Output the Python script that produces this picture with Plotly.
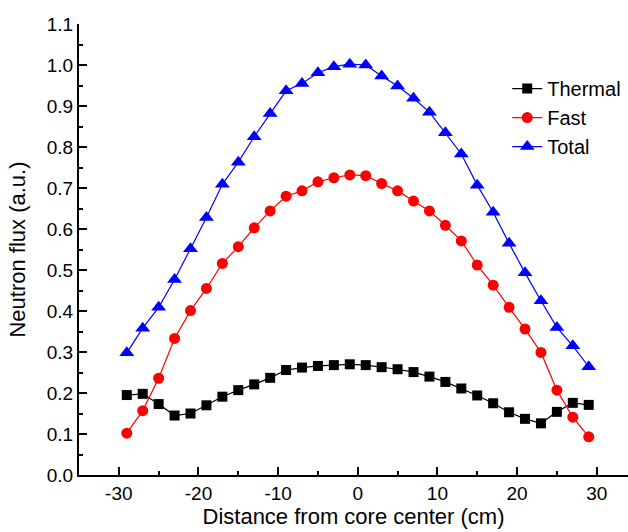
import plotly.graph_objects as go

distance = [-29, -27, -25, -23, -21, -19, -17, -15, -13, -11, -9, -7, -5, -3, -1,
            1, 3, 5, 7, 9, 11, 13, 15, 17, 19, 21, 23, 25, 27, 29]
thermal = [0.195, 0.198, 0.173, 0.145, 0.150, 0.170, 0.191, 0.207, 0.221, 0.237,
           0.256, 0.262, 0.266, 0.268, 0.270, 0.268, 0.263, 0.258, 0.251, 0.240,
           0.227, 0.211, 0.194, 0.175, 0.153, 0.137, 0.126, 0.154, 0.176, 0.171]
fast = [0.102, 0.157, 0.236, 0.333, 0.401, 0.455, 0.516, 0.557, 0.603, 0.644,
        0.680, 0.693, 0.715, 0.725, 0.732, 0.730, 0.711, 0.693, 0.668, 0.644,
        0.609, 0.571, 0.512, 0.463, 0.409, 0.356, 0.299, 0.207, 0.141, 0.093]
total = [0.298, 0.358, 0.409, 0.477, 0.552, 0.628, 0.709, 0.763, 0.825, 0.882,
         0.937, 0.955, 0.981, 0.996, 1.002, 1.000, 0.973, 0.949, 0.919, 0.885,
         0.835, 0.783, 0.707, 0.641, 0.565, 0.493, 0.425, 0.360, 0.315, 0.264]
y_ticks = [0.0, 0.1, 0.2, 0.3, 0.4, 0.5, 0.6, 0.7, 0.8, 0.9, 1.0, 1.1]
x_ticks = [-30, -20, -10, 0, 10, 20, 30]

FONT = "Liberation Sans, Arial, sans-serif"

fig = go.Figure()
fig.add_trace(go.Scatter(x=distance, y=thermal, name="Thermal", mode="lines+markers",
                         line=dict(color="#000000", width=1.2),
                         marker=dict(symbol="square", size=10, color="#000000")))
fig.add_trace(go.Scatter(x=distance, y=fast, name="Fast", mode="lines+markers",
                         line=dict(color="#FF0000", width=1.2),
                         marker=dict(symbol="circle", size=11, color="#FF0000")))
fig.add_trace(go.Scatter(x=distance, y=total, name="Total", mode="lines+markers",
                         line=dict(color="#0000FF", width=1.2),
                         marker=dict(symbol="triangle-up", size=13, color="#0000FF")))

fig.update_layout(
    width=628, height=532,
    margin=dict(l=79, r=0, t=24, b=57, autoexpand=False),
    paper_bgcolor="white", plot_bgcolor="white",
    font=dict(family=FONT, color="#000000", size=19),
    showlegend=True,
    legend=dict(x=0.78, y=0.90, xanchor="left", yanchor="top",
                font=dict(size=20, family=FONT), bgcolor="rgba(0,0,0,0)",
                tracegroupgap=0),
    xaxis=dict(
        range=[-35, 33.93], tickmode="array", tickvals=x_ticks,
        ticktext=[str(v) for v in x_ticks],
        showgrid=False, zeroline=False, showline=True, linecolor="#000000", linewidth=2,
        ticks="inside", ticklen=8, tickwidth=2, tickcolor="#000000",
        minor=dict(dtick=5, ticks="inside", ticklen=4, tickwidth=2, tickcolor="#000000", showgrid=False),
        tickfont=dict(size=19, family=FONT),
        title=dict(text="Distance from core center (cm)", font=dict(size=22, family=FONT), standoff=4),
    ),
    yaxis=dict(
        range=[0, 1.1], tickmode="array", tickvals=y_ticks,
        ticktext=[f"{v:.1f}" for v in y_ticks],
        showgrid=False, zeroline=False, showline=True, linecolor="#000000", linewidth=2,
        ticks="inside", ticklen=8, tickwidth=2, tickcolor="#000000",
        minor=dict(dtick=0.05, ticks="inside", ticklen=4, tickwidth=2, tickcolor="#000000", showgrid=False),
        tickfont=dict(size=19, family=FONT),
        title=dict(text="Neutron flux (a.u.)", font=dict(size=22, family=FONT), standoff=15),
    ),
)

fig.write_html("out.html")
